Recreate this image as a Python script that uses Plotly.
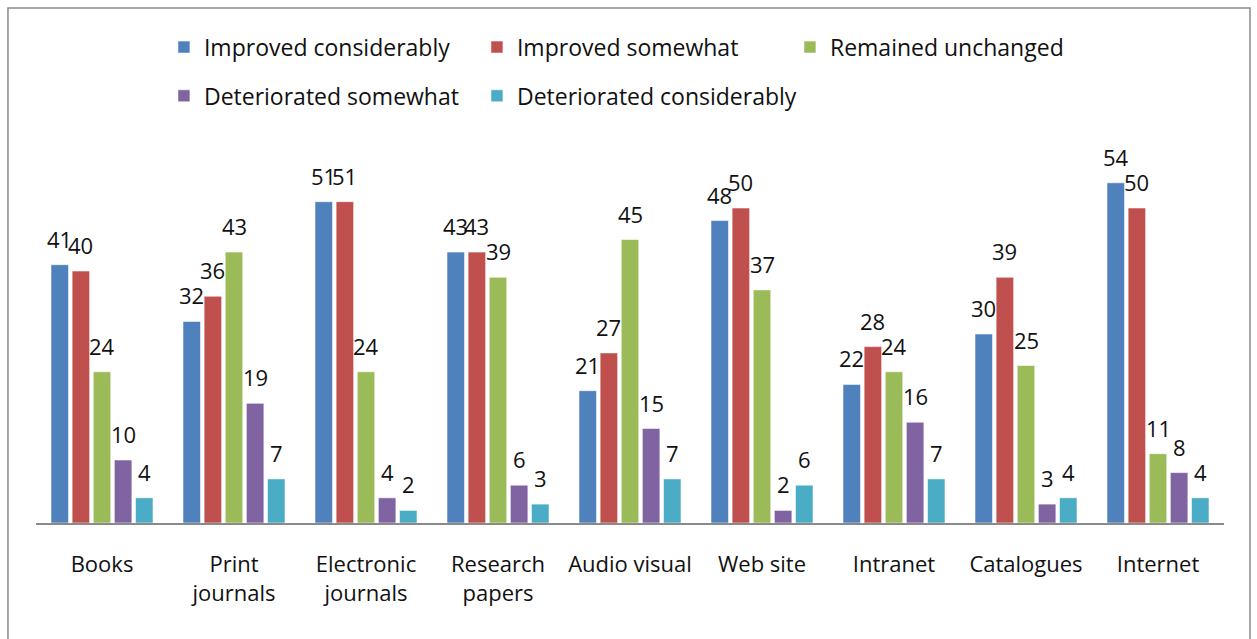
import plotly.graph_objects as go

# Survey results: change in library resources / services (% of respondents)
categories = ["Books", "Print<br>journals", "Electronic<br>journals", "Research<br>papers",
              "Audio visual", "Web site", "Intranet", "Catalogues", "Internet"]

improved_considerably = [41, 32, 51, 43, 21, 48, 22, 30, 54]
improved_somewhat = [40, 36, 51, 43, 27, 50, 28, 39, 50]
remained_unchanged = [24, 43, 24, 39, 45, 37, 24, 25, 11]
deteriorated_somewhat = [10, 19, 4, 6, 15, 2, 16, 3, 8]
deteriorated_considerably = [4, 7, 2, 3, 7, 6, 7, 4, 4]

series = [
    ("Improved considerably", improved_considerably, "#4F81BD", "legend"),
    ("Improved somewhat", improved_somewhat, "#C0504D", "legend"),
    ("Remained unchanged", remained_unchanged, "#9BBB59", "legend"),
    ("Deteriorated somewhat", deteriorated_somewhat, "#8064A2", "legend2"),
    ("Deteriorated considerably", deteriorated_considerably, "#4BACC6", "legend3"),
]

FONT = "Open Sans, sans-serif"
TEXT = "#111111"
BARGAP = 0.2
BARGROUPGAP = 0.17

fig = go.Figure()
for name, vals, color, leg in series:
    fig.add_trace(go.Bar(
        name=name, x=categories, y=vals, legend=leg,
        marker=dict(color=color, line=dict(color="rgba(255,255,255,0.55)", width=1)),
    ))

# value labels above each bar, placed at the bar's centre on the category axis
n = len(series)
slot = (1 - BARGAP) / n
annotations = []
for j, (name, vals, color, leg) in enumerate(series):
    for i, v in enumerate(vals):
        annotations.append(dict(
            x=i + (j - (n - 1) / 2) * slot, y=v, xref="x", yref="y",
            text=str(v), showarrow=False, yanchor="bottom", yshift=9,
            font=dict(family=FONT, size=22, color=TEXT),
        ))

legend_style = dict(orientation="h", xanchor="left", yanchor="middle",
                    font=dict(family=FONT, size=23, color=TEXT), bgcolor="rgba(0,0,0,0)")
COL = 313 / 1188  # legend column pitch as a fraction of the plot width

fig.update_layout(
    width=1257, height=639,
    margin=dict(l=36, r=33, t=145, b=116),
    paper_bgcolor="white", plot_bgcolor="white",
    barmode="group", bargap=BARGAP, bargroupgap=BARGROUPGAP,
    font=dict(family=FONT, size=22, color=TEXT),
    annotations=annotations,
    legend=dict(x=0.1077, y=1.259, entrywidth=268, entrywidthmode="pixels", **legend_style),
    legend2=dict(x=0.1077, y=1.13, **legend_style),
    legend3=dict(x=0.1077 + COL, y=1.13, **legend_style),
    shapes=[dict(type="rect", xref="paper", yref="paper",
                 x0=-0.0236, x1=1.0219, y0=-0.33, y1=1.3624,
                 line=dict(color="#8a8a8a", width=1.5), layer="below")],
)
fig.update_xaxes(showline=True, linecolor="#8a8a8a", linewidth=1.5, ticks="",
                 tickfont=dict(family=FONT, size=22, color=TEXT), ticklabelstandoff=21,
                 showgrid=False)
fig.update_yaxes(range=[0, 60], visible=False, showgrid=False, zeroline=False)

fig.write_html("out.html")
